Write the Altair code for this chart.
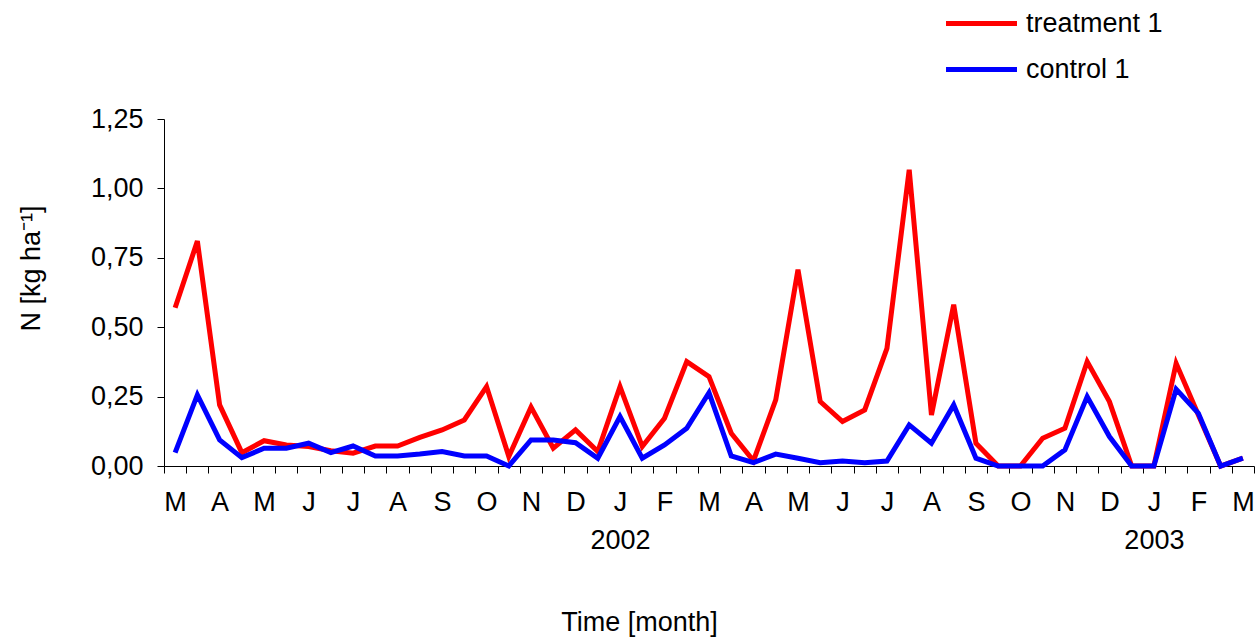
import altair as alt
import pandas as pd

months = ["M", "A", "M", "J", "J", "A", "S", "O", "N", "D", "J", "F", "M",
          "A", "M", "J", "J", "A", "S", "O", "N", "D", "J", "F", "M"]
years = {20: "2002", 44: "2003"}

treatment = [0.57, 0.81, 0.22, 0.048, 0.091, 0.076, 0.07, 0.055, 0.046, 0.072,
             0.072, 0.103, 0.13, 0.166, 0.286, 0.034, 0.212, 0.064, 0.13, 0.052,
             0.286, 0.07, 0.172, 0.376, 0.322, 0.118, 0.019, 0.238, 0.707, 0.232,
             0.16, 0.202, 0.424, 1.067, 0.184, 0.581, 0.082, 0.0, 0.0, 0.1,
             0.136, 0.376, 0.232, 0.0, 0.0, 0.37, 0.184, 0.0, 0.028]
control = [0.048, 0.256, 0.094, 0.03, 0.064, 0.064, 0.082, 0.048, 0.072, 0.036,
           0.036, 0.043, 0.052, 0.036, 0.036, 0.0, 0.094, 0.094, 0.084, 0.028,
           0.178, 0.028, 0.076, 0.136, 0.264, 0.036, 0.012, 0.043, 0.028, 0.012,
           0.018, 0.012, 0.018, 0.148, 0.082, 0.22, 0.028, 0.0, 0.0, 0.0,
           0.058, 0.25, 0.106, 0.0, 0.0, 0.277, 0.19, 0.0, 0.028]
series_names = ["treatment 1", "control 1"]
series_colors = ["#ff0000", "#0000ff"]
y_ticks = [0, 0.25, 0.5, 0.75, 1.0, 1.25]

n = len(treatment)
rows = []
for i, v in enumerate(treatment):
    rows.append({"idx": i, "value": v, "series": series_names[0]})
for i, v in enumerate(control):
    rows.append({"idx": i, "value": v, "series": series_names[1]})
df = pd.DataFrame(rows)

# axis values: half-integers carry ticks, even integers carry labels
axis_vals = [k / 2 for k in range(-1, 2 * n)]
month_js = "[" + ",".join("'%s'" % m for m in months) + "]"
year_cases = " : ".join(
    "datum.value == %d ? [%s[%d], '%s']" % (k, month_js, k // 2, y) for k, y in years.items()
)
label_expr = (
    "datum.value % 2 != 0 ? '' : (" + year_cases + " : " + month_js + "[datum.value / 2])"
)

FONT = "Liberation Sans"
FS = 27

x_enc = alt.X(
    "idx:Q",
    scale=alt.Scale(domain=[-0.5, n - 0.5], nice=False, zero=False),
    axis=alt.Axis(
        values=axis_vals,
        labelExpr=label_expr,
        labelOverlap=False,
        labelFlush=False,
        grid=False,
        tickSize=7,
        tickColor="black",
        tickOpacity={"condition": {"test": "datum.value % 1 == 0", "value": 0}, "value": 1},
        domainColor="black",
        labelPadding=16,
        labelLineHeight=38,
        labelBaseline="top",
        title="Time [month]",
        titleX=475,
        titleY=156,
        titleAlign="center",
        titleBaseline="middle",
    ),
)
y_enc = alt.Y(
    "value:Q",
    scale=alt.Scale(domain=[0, 1.25], nice=False),
    axis=alt.Axis(
        values=y_ticks,
        labelExpr="replace(format(datum.value, '.2f'), '.', ',')",
        grid=False,
        tickSize=7,
        tickColor="black",
        domainColor="black",
        labelPadding=14,
        title="N [kg ha⁻¹]",
        titleAngle=270,
        titleX=-133,
        titleY=149,
        titleAlign="center",
        titleBaseline="middle",
    ),
)
color_enc = alt.Color(
    "series:N",
    scale=alt.Scale(domain=series_names, range=series_colors),
    legend=alt.Legend(
        title=None,
        orient="none",
        legendX=785,
        legendY=-128,
        symbolType="M-1.183,0H1.183",
        symbolSize=3600,
        symbolStrokeWidth=5,
        labelFontSize=FS,
        labelFont=FONT,
        labelColor="black",
        labelOffset=12,
        rowPadding=0,
        padding=0,
    ),
)

base = alt.Chart(df).mark_line(strokeWidth=5, strokeJoin="miter")
red = base.transform_filter(alt.datum.series == series_names[0]).encode(x=x_enc, y=y_enc, color=color_enc)
blue = base.transform_filter(alt.datum.series == series_names[1]).encode(x=x_enc, y=y_enc, color=color_enc)

chart = (
    alt.layer(red, blue)
    .properties(
        width=1090,
        height=347,
        autosize=alt.AutoSizeParams(type="none"),
        padding={"left": 164, "top": 119, "right": 5, "bottom": 172},
        background="white",
    )
    .configure_view(stroke=None)
    .configure_axis(
        labelFont=FONT,
        labelFontSize=FS,
        labelColor="black",
        titleFont=FONT,
        titleFontSize=FS,
        titleFontWeight="normal",
        titleColor="black",
        domainWidth=1,
        tickWidth=1,
    )
)

chart.save("out.html", embed_options={"renderer": "svg", "actions": False})
